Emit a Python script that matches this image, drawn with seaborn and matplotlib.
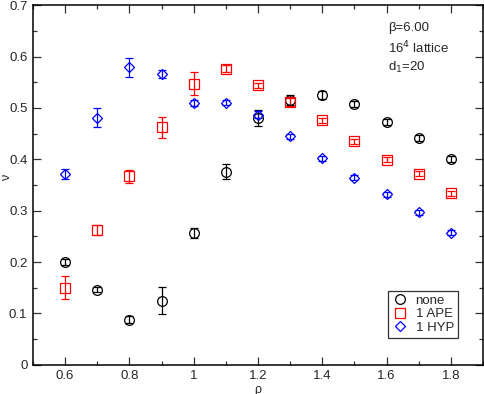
import numpy as np
import pandas as pd
import matplotlib
matplotlib.use("Agg")
import matplotlib.pyplot as plt
import seaborn as sns
from matplotlib.ticker import MultipleLocator

rho = [0.6, 0.7, 0.8, 0.9, 1.0, 1.1, 1.2, 1.3, 1.4, 1.5, 1.6, 1.7, 1.8]
nu_none = [0.200, 0.146, 0.088, 0.125, 0.257, 0.376, 0.480, 0.515, 0.525, 0.507, 0.473, 0.441, 0.400]
err_none = [0.005, 0.005, 0.007, 0.027, 0.010, 0.015, 0.016, 0.010, 0.007, 0.006, 0.006, 0.006, 0.006]
nu_ape = [0.150, 0.262, 0.367, 0.462, 0.547, 0.576, 0.544, 0.512, 0.476, 0.435, 0.399, 0.372, 0.334]
err_ape = [0.022, 0.010, 0.013, 0.020, 0.022, 0.007, 0.005, 0.008, 0.005, 0.005, 0.005, 0.005, 0.005]
nu_hyp = [0.371, 0.481, 0.579, 0.566, 0.510, 0.510, 0.487, 0.445, 0.402, 0.364, 0.332, 0.297, 0.257]
err_hyp = [0.010, 0.019, 0.019, 0.007, 0.006, 0.005, 0.007, 0.005, 0.005, 0.005, 0.005, 0.005, 0.005]

labels = ["none", "1 APE", "1 HYP"]
colors = ["black", "red", "blue"]
markers = ["o", "s", "D"]
sizes = [7.0, 6.5, 5.5]

df = pd.concat([
    pd.DataFrame({"rho": rho, "nu": v, "err": e, "series": lab})
    for v, e, lab in zip([nu_none, nu_ape, nu_hyp], [err_none, err_ape, err_hyp], labels)
])

sns.set_style("ticks")
plt.rcParams["font.family"] = ["Liberation Sans", "DejaVu Sans"]

fig = plt.figure(figsize=(4.85, 3.94), dpi=100)
ax = fig.add_axes([0.068, 0.074, 0.928, 0.913])

for lab, col, mk, ms in zip(labels, colors, markers, sizes):
    d = df[df["series"] == lab]
    ax.errorbar(d["rho"], d["nu"], yerr=d["err"], fmt="none", ecolor=col,
                elinewidth=0.9, capsize=3.2, capthick=0.9, zorder=2)
    sns.lineplot(x=d["rho"], y=d["nu"], ax=ax, linestyle="none", marker=mk,
                 markersize=ms, markerfacecolor="none", markeredgecolor=col,
                 markeredgewidth=0.9, color=col, label=lab, zorder=3,
                 estimator=None, errorbar=None)

ax.set_xlim(0.5, 1.9)
ax.set_ylim(0, 0.7)
ax.xaxis.set_minor_locator(MultipleLocator(0.1))
ax.yaxis.set_minor_locator(MultipleLocator(0.05))
ax.set_xticks([0.6, 0.8, 1.0, 1.2, 1.4, 1.6, 1.8])
ax.set_xticklabels(["0.6", "0.8", "1", "1.2", "1.4", "1.6", "1.8"])
ax.set_yticks([0, 0.1, 0.2, 0.3, 0.4, 0.5, 0.6, 0.7])
ax.set_yticklabels(["0", "0.1", "0.2", "0.3", "0.4", "0.5", "0.6", "0.7"])
ax.tick_params(which="both", direction="in", top=True, right=True, labelsize=9.5, pad=4,
               color="#333333")
ax.tick_params(which="major", length=6, width=0.9)
ax.tick_params(which="minor", length=3, width=0.9)
for s in ax.spines.values():
    s.set_linewidth(1.1)
    s.set_color("black")

ax.set_xlabel("ρ", fontsize=9)
ax.set_ylabel("ν", fontsize=9)
ax.xaxis.set_label_coords(0.5, -0.052)
ax.yaxis.set_label_coords(-0.044, 0.52)

ax.text(0.789, 0.936, "β=6.00", transform=ax.transAxes, fontsize=9.5, va="center")
ax.text(0.789, 0.882, "16$^4$ lattice", transform=ax.transAxes, fontsize=9.5, va="center")
ax.text(0.789, 0.828, "d$_1$=20", transform=ax.transAxes, fontsize=9.5, va="center")

leg = ax.legend(loc="lower right", bbox_to_anchor=(0.944, 0.075), frameon=True,
                fancybox=False, fontsize=9.5, handletextpad=0.6, borderpad=0.3,
                labelspacing=0.1, handlelength=1.2, borderaxespad=0)
leg.get_frame().set_edgecolor("black")
leg.get_frame().set_linewidth(0.9)

fig.savefig("out.png", dpi=100)
